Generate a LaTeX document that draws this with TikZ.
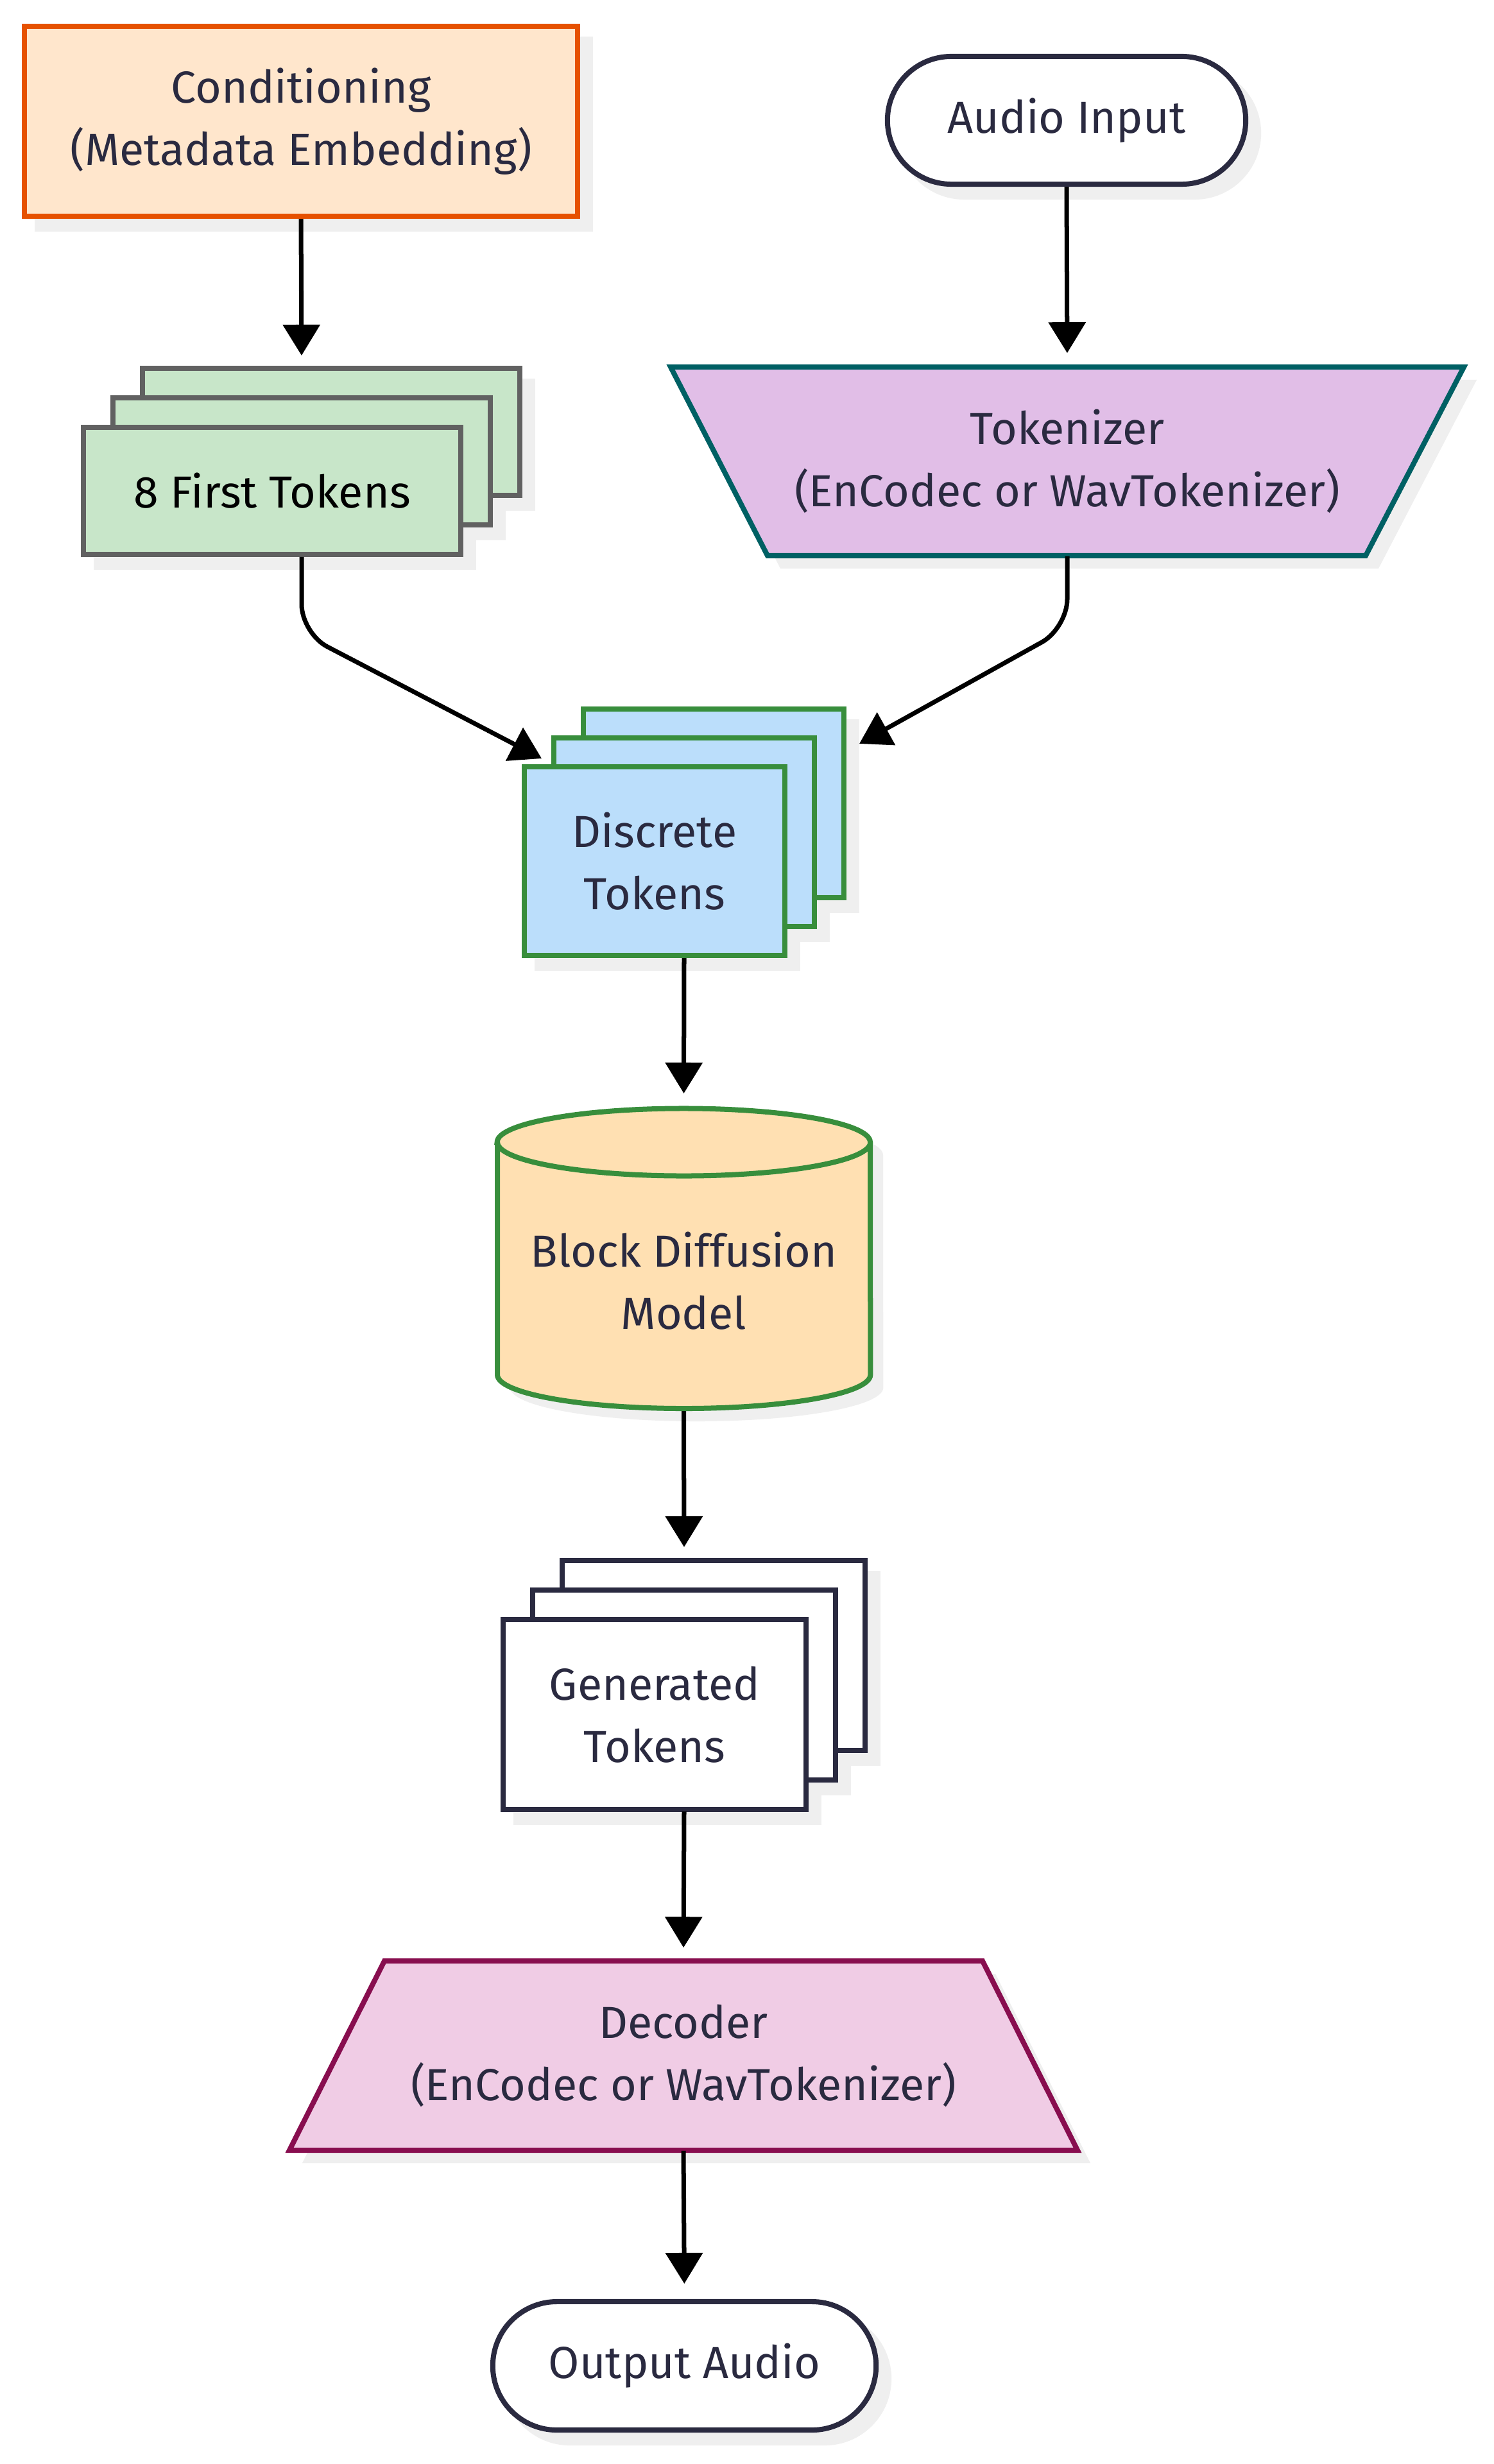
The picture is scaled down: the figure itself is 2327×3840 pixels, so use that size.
\documentclass[tikz,border=0pt]{standalone}
\usepackage{fontspec}
\setmainfont{Fira Sans}
\usetikzlibrary{arrows.meta}
\definecolor{txt}{HTML}{2A2A40}
\definecolor{shd}{HTML}{EFEFEF}
\definecolor{condfill}{HTML}{FFE6CC}
\definecolor{condline}{HTML}{E65100}
\definecolor{ftfill}{HTML}{C8E6C9}
\definecolor{ftline}{HTML}{616161}
\definecolor{tokfill}{HTML}{E1BEE7}
\definecolor{tokline}{HTML}{006064}
\definecolor{dtfill}{HTML}{BBDEFB}
\definecolor{grn}{HTML}{388E3C}
\definecolor{bdmfill}{HTML}{FFE0B2}
\definecolor{navy}{HTML}{2A2A40}
\definecolor{decfill}{HTML}{F0CCE5}
\definecolor{decline}{HTML}{880E4F}
\begin{document}
\begin{tikzpicture}[x=0.01cm,y=-0.01cm,
  lbl/.style={text=txt, font=\fontsize{19.9pt}{27.6pt}\selectfont, align=center},
  box/.style={line width=0.08cm, inner sep=0pt, rectangle},
  shadowbox/.style={fill=shd, draw=none, rectangle, inner sep=0pt},
  conn/.style={line width=0.07cm, draw=black, -{Triangle[length=0.48cm,width=0.57cm]}, rounded corners=0.45cm},
]
\useasboundingbox[fill=white] (0,0) rectangle (2327,3840);

% ---------- Conditioning ----------
\node[shadowbox, minimum width=8.70cm, minimum height=3.04cm] (condsh) at (489,209) {};
\node[box, lbl, draw=condline, fill=condfill, minimum width=8.62cm, minimum height=2.96cm] (cond) at (469,189) {Conditioning\\(Metadata Embedding)};

% ---------- Audio Input ----------
\node[shadowbox, rounded corners=1.035cm, minimum width=5.66cm, minimum height=2.07cm] (audiosh) at (1682,207.5) {};
\node[box, lbl, draw=navy, fill=white, rounded corners=0.995cm, minimum width=5.58cm, minimum height=1.99cm] (audio) at (1662,187.5) {Audio Input};

% ---------- 8 First Tokens stack ----------
\node[shadowbox, minimum width=5.96cm, minimum height=2.06cm] (ftsh3) at (536,693) {};
\node[shadowbox, minimum width=5.96cm, minimum height=2.06cm] (ftsh2) at (490,739) {};
\node[shadowbox, minimum width=5.96cm, minimum height=2.06cm] (ftsh1) at (444,785) {};
\node[box, draw=ftline, fill=ftfill, minimum width=5.88cm, minimum height=1.98cm] (ft3) at (516,673) {};
\node[box, draw=ftline, fill=ftfill, minimum width=5.88cm, minimum height=1.98cm] (ft2) at (470,719) {};
\node[box, lbl, text=black, draw=ftline, fill=ftfill, minimum width=5.88cm, minimum height=1.98cm] (ft) at (424,765) {8 First Tokens};
\coordinate (ftN) at (470,569);
\coordinate (ftS) at (470,868);

% ---------- Tokenizer ----------
\fill[shd] (1065,592) -- (2301,592) -- (2148,886) -- (1216,886) -- cycle;
\filldraw[fill=tokfill, draw=tokline, line width=0.08cm] (1045,572) -- (2281,572) -- (2128,866) -- (1196,866) -- cycle;
\node[lbl, inner sep=0pt, minimum width=12.36cm, minimum height=2.94cm] (tok) at (1663,719) {Tokenizer\\(EnCodec or WavTokenizer)};

% ---------- Discrete Tokens stack ----------
\node[shadowbox, minimum width=4.14cm, minimum height=3.02cm] (dtsh3) at (1132,1272) {};
\node[shadowbox, minimum width=4.14cm, minimum height=3.02cm] (dtsh2) at (1086,1317) {};
\node[shadowbox, minimum width=4.14cm, minimum height=3.02cm] (dtsh1) at (1040,1362) {};
\node[box, draw=grn, fill=dtfill, minimum width=4.06cm, minimum height=2.94cm] (dt3) at (1112,1252) {};
\node[box, draw=grn, fill=dtfill, minimum width=4.06cm, minimum height=2.94cm] (dt2) at (1066,1297) {};
\node[box, lbl, draw=grn, fill=dtfill, minimum width=4.06cm, minimum height=2.94cm] (dt) at (1020,1342) {Discrete\\Tokens};
\coordinate (dtL) at (844,1182);
\coordinate (dtR) at (1339,1159);
\coordinate (dtS) at (1066,1493);

% ---------- Block Diffusion Model ----------
\fill[shd] (795,1800) -- (795,2162.5) arc[start angle=180,end angle=360,x radius=2.905cm,y radius=0.525cm] -- (1376,1800) arc[start angle=0,end angle=180,x radius=2.905cm,y radius=0.525cm] -- cycle;
\filldraw[fill=bdmfill, draw=grn, line width=0.08cm] (775,1780) -- (775,2142.5) arc[start angle=180,end angle=360,x radius=2.905cm,y radius=0.525cm] -- (1356,1780) arc[start angle=0,end angle=180,x radius=2.905cm,y radius=0.525cm] -- cycle;
\draw[grn, line width=0.08cm] (775,1780) arc[start angle=180,end angle=360,x radius=2.905cm,y radius=0.525cm];
\node[lbl, inner sep=0pt] (bdm) at (1065.5,1996) {Block Diffusion\\Model};
\coordinate (bdmN) at (1065.5,1724);
\coordinate (bdmS) at (1065.5,2199);

% ---------- Generated Tokens stack ----------
\node[shadowbox, minimum width=4.79cm, minimum height=3.03cm] (gensh3) at (1132,2600) {};
\node[shadowbox, minimum width=4.79cm, minimum height=3.03cm] (gensh2) at (1086,2646) {};
\node[shadowbox, minimum width=4.79cm, minimum height=3.03cm] (gensh1) at (1040,2692) {};
\node[box, draw=navy, fill=white, minimum width=4.71cm, minimum height=2.95cm] (gen3) at (1112,2580) {};
\node[box, draw=navy, fill=white, minimum width=4.71cm, minimum height=2.95cm] (gen2) at (1066,2626) {};
\node[box, lbl, draw=navy, fill=white, minimum width=4.71cm, minimum height=2.95cm] (gen) at (1020,2672) {Generated\\Tokens};
\coordinate (genN) at (1066,2427);
\coordinate (genS) at (1066,2823);

% ---------- Decoder ----------
\fill[shd] (619,3076) -- (1551,3076) -- (1699,3371) -- (471,3371) -- cycle;
\filldraw[fill=decfill, draw=decline, line width=0.08cm] (599,3056) -- (1531,3056) -- (1679,3351) -- (451,3351) -- cycle;
\node[lbl, inner sep=0pt, minimum width=12.28cm, minimum height=2.95cm] (dec) at (1065,3203.5) {Decoder\\(EnCodec or WavTokenizer)};

% ---------- Output Audio ----------
\node[shadowbox, rounded corners=1.04cm, minimum width=6.05cm, minimum height=2.08cm] (outsh) at (1086.5,3707) {};
\node[box, lbl, draw=navy, fill=white, rounded corners=1.0cm, minimum width=5.97cm, minimum height=2.00cm] (out) at (1066.5,3687) {Output Audio};

% ---------- Connectors ----------
\draw[conn, shorten >=0.15cm] (cond.south) -- (ftN);
\draw[conn, shorten >=0.21cm] (audio.south) -- (tok.north);
\draw[conn] (ftS) -- ++(0,119) -- (dtL);
\draw[conn] (tok.south) -- ++(0,112) -- (dtR);
\draw[conn, shorten >=0.20cm] (dtS) -- (bdmN);
\draw[conn, shorten >=0.16cm] (bdmS) -- (genN);
\draw[conn, shorten >=0.20cm] (genS) -- (dec.north);
\draw[conn, shorten >=0.24cm] (dec.south) -- (out.north);
\end{tikzpicture}
\end{document}
